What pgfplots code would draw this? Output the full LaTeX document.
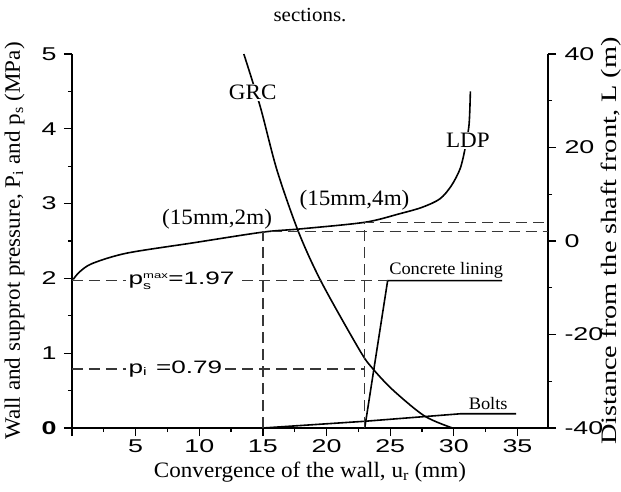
\documentclass[border=0pt]{standalone}
\usepackage{fontspec}
\setmainfont[FakeStretch=1.05]{Liberation Serif}
\newfontfamily\tickfont[FakeStretch=1.45]{Liberation Sans}
\newfontfamily\rfont[FakeStretch=1.29]{Liberation Serif}
\usepackage{amsmath}
\usepackage{pgfplots}
\pgfplotsset{compat=1.18}
\definecolor{dashgray}{RGB}{55,55,55}

\pgfplotsset{
  base/.style={
    scale only axis, width=476pt, height=374pt,
    at={(0,0)}, anchor=south west,
    xmin=0, xmax=37.4,
    clip=false,
    tick align=outside,
    major tick length=8pt, minor tick length=4pt,
    every tick/.style={black, line width=1.2pt},
    axis line style={black, line width=1.4pt, -},
    tick label style={font=\tickfont\fontsize{18.5}{18.5}\selectfont},
  },
  refline/.style={dashgray, line width=1.3pt, dash pattern=on 11pt off 6pt},
  curve/.style={black, line width=1.6pt},
}

\begin{document}
\begin{tikzpicture}
\useasboundingbox (-72pt,-63pt) rectangle (549pt,428pt);

% left axis: pressure
\begin{axis}[base,
  axis x line*=bottom, axis y line*=left,
  ymin=0, ymax=5,
  xtick={0,5,...,35}, xticklabels={,5,10,15,20,25,30,35},
  minor x tick num=1,
  ytick={0,1,...,5}, yticklabels={\textbf{0},1,2,3,4,5},
  yticklabel style={xshift=-4pt},
  minor y tick num=1,
  xlabel={Convergence of the wall, u\textsubscript{r} (mm)},
  ylabel={Wall and supprot pressure, P\textsubscript{i} and p\textsubscript{s} (MPa)},
  every axis x label/.style={at={(axis description cs:0.5,0)}, anchor=base, yshift=-49pt,
    font=\fontsize{22}{24}\selectfont},
  every axis y label/.style={at={(axis description cs:0,0.5)}, xshift=-52pt, rotate=90, anchor=base,
    font=\fontsize{22}{24}\selectfont},
]
% GRC
\addplot[curve, smooth] coordinates {
  (13.5,5.0) (14.8,4.29) (16.1,3.45) (17.8,2.62) (19.6,1.95)
  (22.6,1.04) (23.6,0.80) (25.2,0.51) (27.7,0.16) (29.9,0)};
% concrete lining
\addplot[curve] coordinates {(23,0) (24.8,1.97) (33.8,1.97)};
% bolts
\addplot[curve] coordinates {(15,0) (23,0.09) (30.5,0.19) (34.9,0.19)};
% reference pressures
\addplot[refline] coordinates {(0,1.97) (24.8,1.97)};
\addplot[refline] coordinates {(0,0.79) (23,0.79)};

\node[fill=white, inner sep=1pt, anchor=base, font=\fontsize{22}{24}\selectfont] at (axis cs:14.2,4.39) {GRC};
\node[anchor=base, font=\fontsize{22}{24}\selectfont] at (axis cs:11.4,2.72) {(15mm,2m)};
\node[anchor=base, font=\fontsize{22}{24}\selectfont] at (axis cs:22.2,2.98) {(15mm,4m)};
\node[anchor=base, font=\fontsize{17.5}{18}\selectfont] at (axis cs:29.4,2.05) {Concrete lining};
\node[anchor=base, font=\fontsize{17.5}{18}\selectfont] at (axis cs:32.7,0.25) {Bolts};
\node[fill=white, inner ysep=1pt, inner xsep=3pt, anchor=west, font=\tickfont\fontsize{18}{18}\selectfont]
  at (axis cs:4.2,1.97) {p$_{\text{\fontsize{11}{11}\selectfont s}}^{\text{\fontsize{9}{9}\selectfont max}}$=1.97};
\node[fill=white, inner ysep=1pt, inner xsep=3pt, anchor=west, font=\tickfont\fontsize{18}{18}\selectfont]
  at (axis cs:4.2,0.79) {p$_{\text{\fontsize{11}{11}\selectfont i}}$\hspace{0.5em}=0.79};
\end{axis}

% right axis: distance from the face
\begin{axis}[base,
  hide x axis, axis y line*=right,
  ymin=-40, ymax=40,
  ytick={-40,-20,0,20,40}, yticklabels={-40,-20,0,20,40},
  yticklabel style={xshift=5pt},
  minor y tick num=1,
  ylabel={Distance from the shaft front, L (m)},
  every axis y label/.style={at={(axis description cs:1,0.5)}, xshift=68pt, rotate=90, anchor=base,
    font=\rfont\fontsize{22}{24}\selectfont},
]
% LDP
\addplot[curve, smooth] coordinates {
  (0.1,-8.2) (0.6,-6.6) (1.6,-4.8) (4.3,-2.6) (9.5,-0.4) (15,1.9)
  (18,2.6) (23,4.0) (25.7,5.8) (27.5,7.2) (28.9,9.0) (29.8,11.8)
  (30.5,15.5) (30.9,20) (31.2,25) (31.3,32)};
\addplot[refline] coordinates {(15,-40) (15,2) (37.4,2)};
\addplot[refline] coordinates {(23,-40) (23,4) (37.4,4)};
\node[fill=white, inner sep=1pt, anchor=base, font=\fontsize{22}{24}\selectfont] at (axis cs:31.1,20) {LDP};
\end{axis}

\node[anchor=base, font=\fontsize{20}{20}\selectfont] at (238pt,406pt) {sections.};
\end{tikzpicture}
\end{document}
